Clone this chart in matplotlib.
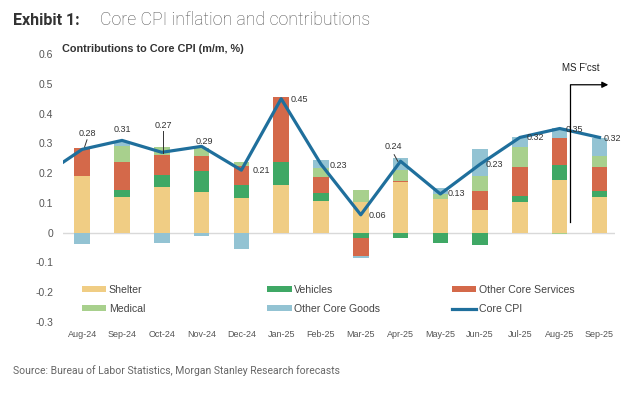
import matplotlib.pyplot as plt
import numpy as np

plt.rcParams["font.family"] = ["Liberation Sans", "DejaVu Sans"]

# Dados (contribuições m/m, %)
months = ["Aug-24", "Sep-24", "Oct-24", "Nov-24", "Dec-24", "Jan-25", "Feb-25",
          "Mar-25", "Apr-25", "May-25", "Jun-25", "Jul-25", "Aug-25", "Sep-25"]
shelter = [0.19, 0.12, 0.154, 0.138, 0.116, 0.159, 0.106, 0.103, 0.17, 0.113, 0.075, 0.102, 0.178, 0.12]
vehicles = [0.0, 0.024, 0.039, 0.07, 0.045, 0.079, 0.027, -0.017, -0.017, -0.034, -0.041, 0.02, 0.05, 0.019]
other_services = [0.095, 0.095, 0.069, 0.048, 0.064, 0.217, 0.054, -0.062, 0.003, 0.0, 0.066, 0.098, 0.09, 0.081]
medical = [0.0, 0.053, 0.026, 0.028, 0.013, 0.0, 0.03, 0.039, 0.039, 0.018, 0.048, 0.068, -0.006, 0.039]
other_goods = [-0.037, 0.014, -0.034, -0.012, -0.056, 0.0, 0.028, -0.005, 0.038, 0.02, 0.092, 0.035, 0.033, 0.059]
core_cpi = [0.28, 0.31, 0.27, 0.29, 0.21, 0.45, 0.23, 0.06, 0.24, 0.13, 0.23, 0.32, 0.35, 0.32]
core_cpi_jul24 = 0.19  # ponto anterior, cortado na borda esquerda

series = [
    ("Shelter", shelter, "#f0cd84"),
    ("Vehicles", vehicles, "#3fa865"),
    ("Other Core Services", other_services, "#d4694a"),
    ("Medical", medical, "#a8d08d"),
    ("Other Core Goods", other_goods, "#93c3d3"),
]

fig = plt.figure(figsize=(6.44, 3.95), dpi=100)
ax = fig.add_axes([0.098, 0.185, 0.857, 0.678])

x = np.arange(len(months))
width = 0.39
pos_base = np.zeros(len(months))
neg_base = np.zeros(len(months))
handles = []
for name, vals, color in series:
    vals = np.array(vals)
    bottom = np.where(vals >= 0, pos_base, neg_base)
    b = ax.bar(x, vals, width, bottom=bottom, color=color, label=name, zorder=2)
    handles.append(b)
    pos_base = pos_base + np.clip(vals, 0, None)
    neg_base = neg_base + np.clip(vals, None, 0)

line_x = np.concatenate([[-1], x])
line_y = np.concatenate([[core_cpi_jul24], core_cpi])
(ln,) = ax.plot(line_x, line_y, color="#1f6f9c", lw=2.3, label="Core CPI", zorder=4)

ax.axhline(0, color="#d9d9d9", lw=1, zorder=1)

# Rótulos do Core CPI: (dx, y do rótulo, alinhamento)
label_pos = [(0.12, 0.332, "center"), (0.0, 0.345, "center"), (0.03, 0.359, "center"),
             (0.07, 0.306, "center"), (0.28, 0.209, "left"), (0.24, 0.446, "left"),
             (0.23, 0.225, "left"), (0.21, 0.057, "left"), (-0.19, 0.29, "center"),
             (0.19, 0.13, "left"), (0.15, 0.228, "left"), (0.16, 0.321, "left"),
             (0.14, 0.345, "left"), (0.1, 0.315, "left")]
for i, (dx, ly, ha) in enumerate(label_pos):
    ax.text(x[i] + dx, ly, f"{core_cpi[i]:.2f}", fontsize=6.5, color="#333333",
            ha=ha, va="center", zorder=5)
# linhas de chamada
ax.plot([0.06, 0.12], [0.288, 0.312], color="#333333", lw=0.7, zorder=5)
ax.plot([2.03, 2.03], [0.267, 0.34], color="#333333", lw=0.7, zorder=5)
ax.plot([7.84, 7.93], [0.262, 0.24], color="#333333", lw=0.7, zorder=5)

# Marcador de previsão
ax.annotate("", xy=(13.22, 0.497), xytext=(12.27, 0.497),
            arrowprops=dict(arrowstyle="-|>", color="black", lw=0.9,
                            shrinkA=0, shrinkB=0, mutation_scale=9), zorder=6)
ax.plot([12.27, 12.27], [0.037, 0.497], color="black", lw=0.9, zorder=6)
ax.text(12.53, 0.555, "MS F'cst", fontsize=7, color="#222222", ha="center", va="center")

ax.set_xlim(-0.48, 13.39)
ax.set_ylim(-0.3, 0.6)
ax.set_yticks(np.arange(-0.3, 0.61, 0.1))
ax.set_yticklabels(["-0.3", "-0.2", "-0.1", "0", "0.1", "0.2", "0.3", "0.4", "0.5", "0.6"])
ax.set_xticks(x)
ax.set_xticklabels(months)
ax.tick_params(axis="x", length=0, labelsize=6.5, labelcolor="#555555", pad=6)
ax.tick_params(axis="y", length=0, labelsize=7.5, labelcolor="#555555", pad=7)
for s in ax.spines.values():
    s.set_visible(False)

# Legenda em três colunas de mesma largura
cols = [(0.034, [handles[0], handles[3]]), (0.370, [handles[1], handles[4]]),
        (0.705, [handles[2], ln])]
legends = []
for cx, hs in cols:
    leg = ax.legend(handles=hs, loc="upper left", bbox_to_anchor=(cx, 0.138),
                    frameon=False, fontsize=7.6, handlelength=2.3, handleheight=0.45,
                    handletextpad=0.25, labelspacing=0.85, borderpad=0, borderaxespad=0,
                    labelcolor="#444444")
    legends.append(leg)
for leg in legends[:-1]:
    ax.add_artist(leg)

fig.text(0.02, 0.949, "Exhibit 1:", fontsize=11.5, fontweight="bold", color="#333333",
         va="center", family="Roboto")
fig.text(0.155, 0.949, "Core CPI inflation and contributions", fontsize=12.8, color="#555555",
         va="center", fontweight="light", family="Roboto")
fig.text(0.096, 0.875, "Contributions to Core CPI (m/m, %)", fontsize=7.8, fontweight="bold",
         color="#333333", va="center")
fig.text(0.02, 0.063, "Source: Bureau of Labor Statistics, Morgan Stanley Research forecasts",
         fontsize=7.5, color="#666666", va="center", family="Roboto")

plt.savefig("out.png", dpi=100)
